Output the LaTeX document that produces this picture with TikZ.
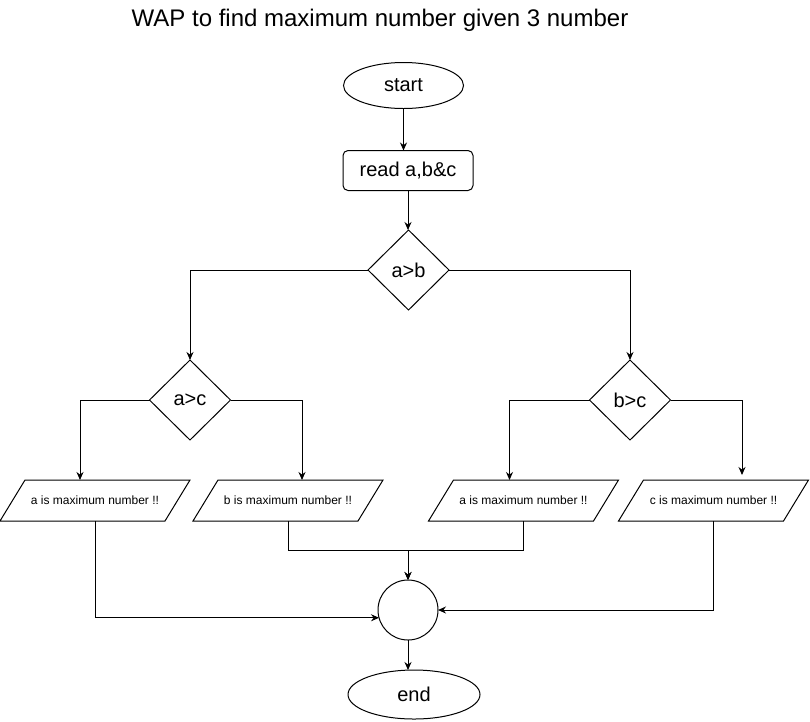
\documentclass[tikz,border=0pt]{standalone}
\usepackage{fontspec}
\setmainfont{Liberation Sans}
\usetikzlibrary{shapes.geometric,arrows.meta,calc}
\begin{document}
\begin{tikzpicture}[x=1pt,y=-1pt,
  every node/.style={inner sep=0pt, outer sep=0pt, line width=1pt, text=black},
  big/.style={font=\fontsize{20}{24}\selectfont},
  small/.style={font=\fontsize{12}{14}\selectfont},
  term/.style={draw, ellipse, big},
  procbox/.style={draw, rounded corners=5pt, minimum width=130pt, minimum height=40pt, big},
  decision/.style={draw, diamond, minimum width=81pt, minimum height=80pt, big},
  para/.style={minimum width=190pt, minimum height=41pt, small},
  joint/.style={draw, circle, minimum size=60pt},
  arr/.style={line width=1pt, -{Stealth[length=8pt,width=7pt]}},
  ln/.style={line width=1pt}]
\useasboundingbox (0,0) rectangle (810,721);

\node (title) at (380,20) {\fontsize{24}{28}\selectfont WAP to find maximum number given 3 number};

\node[term, minimum width=120pt, minimum height=46pt] (start) at (403.5,85.5) {start};
\node[procbox] (read) at (408,170.5) {read a,b\&c};
\node[decision] (ab) at (408.5,270) {a>b};
\node[decision] (ac) at (190,400) {a>c};
\node[decision] (bc) at (630,400) {b>c};

\node[para] (p1) at (95,500.5) {a is maximum number !!};
\node[para] (p2) at (288,500.5) {b is maximum number !!};
\node[para] (p3) at (523.5,500.5) {a is maximum number !!};
\node[para] (p4) at (713.5,500.5) {c is maximum number !!};
\foreach \n in {p1,p2,p3,p4}
  \draw[ln, line join=miter] (\n.south west) -- ($(\n.north west)+(25,0)$) -- (\n.north east) -- ($(\n.south east)+(-25,0)$) -- cycle;

\node[joint] (mid) at (408,610) {};
\node[term, minimum width=132pt, minimum height=49pt] (end) at (414,694.5) {end};
\coordinate (join) at (408,550);

\draw[arr] (start.south) -- (start.south |- read.north);
\draw[arr] (read.south) -- (read.south |- ab.north);
\draw[arr] (ab.west) -| (ac.north);
\draw[arr] (ab.east) -| (bc.north);
\draw[arr] (ac.west) -| ([xshift=-15pt]p1.north);
\draw[arr] (ac.east) -| ([xshift=14pt]p2.north);
\draw[arr] (bc.west) -| ([xshift=-14pt]p3.north);
\draw[arr, shorten >=5pt] (bc.east) -| ([xshift=28.5pt]p4.north);
\draw[arr] (p1.south) |- (mid.195);
\draw[arr] (p2.south) |- (join) -- (mid.north);
\draw[arr] (p3.south) |- (join) -- (mid.north);
\draw[arr] (p4.south) |- (mid.east);
\draw[arr] (mid.south) -- (mid.south |- end.north);
\end{tikzpicture}
\end{document}
